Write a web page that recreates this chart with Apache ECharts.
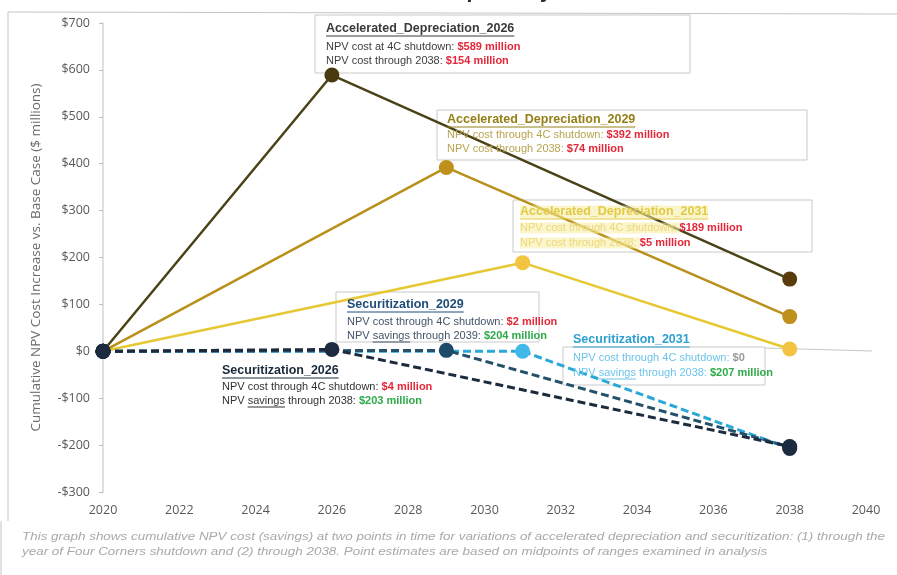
<!DOCTYPE html>
<html>
<head>
<meta charset="utf-8">
<script src="https://cdn.jsdelivr.net/npm/echarts@6/dist/echarts.min.js"></script>
<style>
  html, body { margin: 0; padding: 0; background: #ffffff; }
  #chart { width: 897px; height: 575px; }
</style>
</head>
<body>
<div id="chart"></div>
<script>
// ---- Scenario data ($ millions, cumulative NPV vs. base case) ----
const scenarioNames = [
  'Accelerated_Depreciation_2031',
  'Accelerated_Depreciation_2029',
  'Accelerated_Depreciation_2026',
  'Securitization_2031',
  'Securitization_2029',
  'Securitization_2026'
];
const startYear = 2020;
const endYear = 2038;
const shutdownYears = [2031, 2029, 2026, 2031, 2029, 2026];
const costAtShutdown = [189, 392, 589, 0, 2, 4];
const costThrough2038 = [5, 74, 154, -207, -204, -203];

// axis ticks
const xTicks = [2020, 2040, 2];
const yTicks = [-300, 700, 100];

const lineColors = ['#e6c832', '#b8901a', '#4b4318', '#2aa8d8', '#24506b', '#1b2a3d'];
const markerColors = [
  ['#1c2b3f', '#f2c441', '#f2c441'],
  ['#1c2b3f', '#c0901c', '#c0901c'],
  ['#1c2b3f', '#4a3a10', '#5a3c0c'],
  ['#1c2b3f', '#40b8ea', '#1c2b3f'],
  ['#1c2b3f', '#1e4a6a', '#1c2b3f'],
  ['#1c2b3f', '#1c2b3f', '#1c2b3f']
];

const FONT = '"Liberation Sans", Arial, sans-serif';
const RED = '#e4283a';
const GREEN = '#2eaa4a';

const measureCtx = document.createElement('canvas').getContext('2d');
function textWidth(str, font) {
  measureCtx.font = font;
  return measureCtx.measureText(str).width;
}
function money(v) {
  return '$' + Math.abs(v);
}

const series = scenarioNames.map((name, i) => {
  const isSec = name.indexOf('Securitization') === 0;
  const pts = [[startYear, 0], [shutdownYears[i], costAtShutdown[i]], [endYear, costThrough2038[i]]];
  return {
    name: name,
    type: 'line',
    data: pts.map((p, k) => ({ value: p, itemStyle: { color: markerColors[i][k] } })),
    symbol: 'circle',
    symbolSize: 15,
    showSymbol: true,
    animation: false,
    z: 2 + i,
    lineStyle: {
      color: lineColors[i],
      width: isSec ? 3 : 2.5,
      type: isSec ? [8, 4] : 'solid'
    },
    itemStyle: { color: lineColors[i], borderWidth: 0 }
  };
});

// ---- annotation callouts ----
const TITLE_FONT_SIZE = 12.5;
const BODY_FONT_SIZE = 11;

function noteGroup(cfg) {
  const els = [];
  if (cfg.box) {
    els.push({
      type: 'rect',
      shape: { x: cfg.box[0], y: cfg.box[1], width: cfg.box[2], height: cfg.box[3] },
      style: { fill: 'rgba(255,255,255,0.75)', stroke: '#c9c9c9', lineWidth: 1 },
      z: 1
    });
  }
  (cfg.extraLines || []).forEach(l => {
    els.push({ type: 'line', shape: { x1: l[0], y1: l[1], x2: l[2], y2: l[3] },
      style: { stroke: '#c9c9c9', lineWidth: 1 }, z: 1 });
  });
  const titleFont = 'bold ' + TITLE_FONT_SIZE + 'px ' + FONT;
  els.push({
    type: 'text', x: cfg.x, y: cfg.titleY, z: 10,
    style: {
      text: cfg.title, font: titleFont, fill: cfg.titleColor,
      textVerticalAlign: 'middle', backgroundColor: cfg.highlight || 'transparent'
    }
  });
  const tw = textWidth(cfg.title, titleFont);
  els.push({ type: 'line', z: 10,
    shape: { x1: cfg.x, y1: cfg.titleY + 7, x2: cfg.x + tw, y2: cfg.titleY + 7 },
    style: { stroke: cfg.titleColor, lineWidth: 1 } });
  const bodyFont = BODY_FONT_SIZE + 'px ' + FONT;
  cfg.lines.forEach((ln, k) => {
    const y = cfg.bodyY + k * cfg.lineGap;
    els.push({
      type: 'text', x: cfg.x, y: y, z: 10,
      style: {
        text: '{a|' + ln.label + '}{v|' + ln.value + '}',
        textVerticalAlign: 'middle',
        rich: {
          a: { font: bodyFont, fill: cfg.bodyColor, backgroundColor: cfg.highlight || 'transparent' },
          v: { font: 'bold ' + BODY_FONT_SIZE + 'px ' + FONT, fill: ln.color }
        }
      }
    });
    if (ln.underline) {
      const pre = textWidth(ln.label.slice(0, ln.label.indexOf(ln.underline)), bodyFont);
      const w = textWidth(ln.underline, bodyFont);
      els.push({ type: 'line', z: 10,
        shape: { x1: cfg.x + pre, y1: y + 6, x2: cfg.x + pre + w, y2: y + 6 },
        style: { stroke: cfg.bodyColor, lineWidth: 1 } });
    }
  });
  return { type: 'group', children: els };
}

const idx = name => scenarioNames.indexOf(name);

const notes = [
  noteGroup({
    box: [315, 15, 375, 58], x: 326, titleY: 29, bodyY: 47, lineGap: 14,
    title: scenarioNames[idx('Accelerated_Depreciation_2026')], titleColor: '#3a3a3a', bodyColor: '#404040',
    lines: [
      { label: 'NPV cost at 4C shutdown: ', value: money(costAtShutdown[idx('Accelerated_Depreciation_2026')]) + ' million', color: RED },
      { label: 'NPV cost through 2038: ', value: money(costThrough2038[idx('Accelerated_Depreciation_2026')]) + ' million', color: RED }
    ]
  }),
  noteGroup({
    box: [437, 110, 370, 50], x: 447, titleY: 120, bodyY: 135, lineGap: 14,
    title: scenarioNames[idx('Accelerated_Depreciation_2029')], titleColor: '#948016', bodyColor: '#b8a450',
    lines: [
      { label: 'NPV cost through 4C shutdown: ', value: money(costAtShutdown[idx('Accelerated_Depreciation_2029')]) + ' million', color: RED },
      { label: 'NPV cost through 2038: ', value: money(costThrough2038[idx('Accelerated_Depreciation_2029')]) + ' million', color: RED }
    ]
  }),
  noteGroup({
    box: [513, 200, 299, 52], x: 520, titleY: 212, bodyY: 228, lineGap: 15,
    title: scenarioNames[idx('Accelerated_Depreciation_2031')], titleColor: '#e2ca48', bodyColor: '#efd77a',
    highlight: 'rgba(246,236,160,0.55)',
    lines: [
      { label: 'NPV cost through 4C shutdown: ', value: money(costAtShutdown[idx('Accelerated_Depreciation_2031')]) + ' million', color: RED },
      { label: 'NPV cost through 2038: ', value: money(costThrough2038[idx('Accelerated_Depreciation_2031')]) + ' million', color: RED }
    ]
  }),
  noteGroup({
    box: [336, 292, 203, 50], x: 347, titleY: 305, bodyY: 322, lineGap: 14,
    title: scenarioNames[idx('Securitization_2029')], titleColor: '#1f4e79', bodyColor: '#44546a',
    lines: [
      { label: 'NPV cost through 4C shutdown: ', value: money(costAtShutdown[idx('Securitization_2029')]) + ' million', color: RED },
      { label: 'NPV savings through 2039: ', value: money(costThrough2038[idx('Securitization_2029')]) + ' million', color: GREEN, underline: 'savings' }
    ]
  }),
  noteGroup({
    x: 222, titleY: 371, bodyY: 387, lineGap: 14,
    title: scenarioNames[idx('Securitization_2026')], titleColor: '#1a2a3a', bodyColor: '#333333',
    lines: [
      { label: 'NPV cost through 4C shutdown: ', value: money(costAtShutdown[idx('Securitization_2026')]) + ' million', color: RED },
      { label: 'NPV savings through 2038: ', value: money(costThrough2038[idx('Securitization_2026')]) + ' million', color: GREEN, underline: 'savings' }
    ]
  }),
  noteGroup({
    box: [563, 347, 202, 38], extraLines: [[765, 348, 872, 351]],
    x: 573, titleY: 340, bodyY: 358, lineGap: 15,
    title: scenarioNames[idx('Securitization_2031')], titleColor: '#2e9fd0', bodyColor: '#6cc4ea',
    lines: [
      { label: 'NPV cost through 4C shutdown: ', value: money(costAtShutdown[idx('Securitization_2031')]), color: '#9a9a9a' },
      { label: 'NPV savings through 2038: ', value: money(costThrough2038[idx('Securitization_2031')]) + ' million', color: GREEN, underline: 'savings' }
    ]
  })
];

const footnote = [
  'This graph shows cumulative NPV cost (savings) at two points in time for variations of accelerated depreciation and securitization: (1) through the',
  'year of Four Corners shutdown and (2) through 2038. Point estimates are based on midpoints of ranges examined in analysis'
];

const frame = [
  { type: 'line', shape: { x1: 8, y1: 12, x2: 8, y2: 521 }, style: { stroke: '#c4c4c4', lineWidth: 1 } },
  { type: 'line', shape: { x1: 8, y1: 12, x2: 897, y2: 14 }, style: { stroke: '#c4c4c4', lineWidth: 1 } },
  { type: 'line', shape: { x1: 1, y1: 521, x2: 1, y2: 575 }, style: { stroke: '#c4c4c4', lineWidth: 1 } },
  { type: 'text', x: 460, y: 3, style: { text: 'Cumulative NPV Impacts by Scenario', font: 'bold 21px ' + FONT,
      fill: '#2a2a2a', textAlign: 'center', textVerticalAlign: 'bottom' } }
];

// footnote is set in a narrow italic and stretched to the frame width
const FOOT_FONT = 'italic 10.5px ' + FONT;
const footScale = 863 / textWidth(footnote[0], FOOT_FONT);
const footEls = footnote.map((t, k) => ({
  type: 'text', x: 22, y: 537 + k * 15, scaleX: footScale,
  style: { text: t, font: FOOT_FONT, fill: '#a9a9a9', textVerticalAlign: 'middle' }
}));

const chart = echarts.init(document.getElementById('chart'), null, { renderer: 'canvas' });
chart.setOption({
  backgroundColor: '#ffffff',
  animation: false,
  grid: { left: 103, right: 31, top: 23, bottom: 83, containLabel: false },
  xAxis: {
    type: 'value', min: xTicks[0], max: xTicks[1], interval: xTicks[2],
    axisLine: { show: false }, axisTick: { show: false }, splitLine: { show: false },
    axisLabel: { color: '#595959', fontSize: 12.5, fontFamily: '"Open Sans", sans-serif', margin: 12,
      formatter: v => String(v) }
  },
  yAxis: {
    type: 'value', min: yTicks[0], max: yTicks[1], interval: yTicks[2],
    name: 'Cumulative NPV Cost Increase vs. Base Case ($ millions)',
    nameLocation: 'middle', nameGap: 60, nameRotate: 90,
    nameTextStyle: { color: '#6a6a6a', fontSize: 13.5, fontFamily: '"Open Sans", sans-serif' },
    axisLine: { show: true, lineStyle: { color: '#d4d4d4', width: 1.5 } },
    axisTick: { show: true, length: 4, inside: false, lineStyle: { color: '#bdbdbd' } },
    splitLine: { show: false },
    axisLabel: { color: '#595959', fontSize: 12.5, fontFamily: '"Open Sans", sans-serif', margin: 13,
      formatter: v => (v < 0 ? '-$' : '$') + Math.abs(v) }
  },
  graphic: frame.concat(notes, footEls),
  series: series
});
</script>
</body>
</html>
